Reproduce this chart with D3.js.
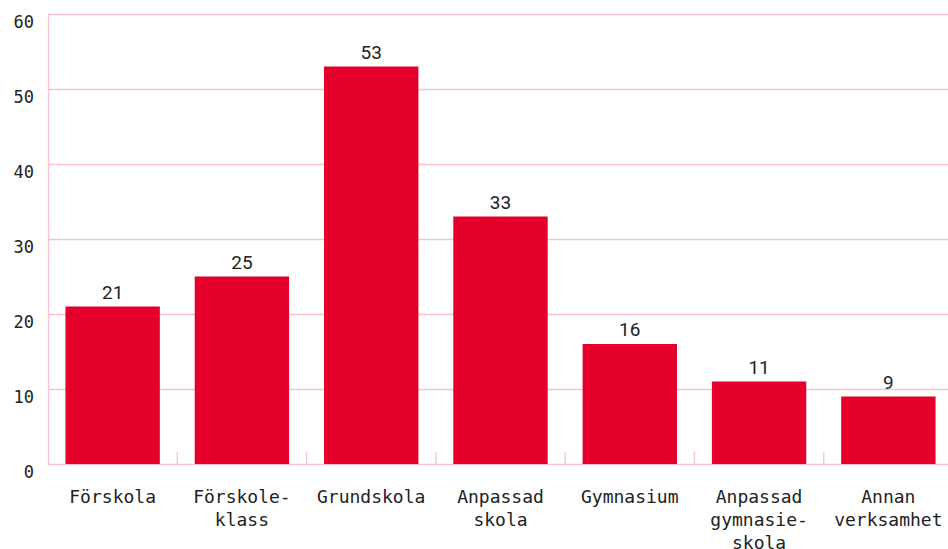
<!DOCTYPE html>
<html>
<head>
<meta charset="utf-8">
<script src="https://cdn.jsdelivr.net/npm/d3@7"></script>
<style>
  html, body { margin: 0; padding: 0; background: #fff; overflow: hidden; }
  svg { display: block; }
</style>
</head>
<body>
<div id="chart"></div>
<script>
// bar chart — verksamhetsform counts

const categories = [
  ['Förskola'],
  ['Förskole-', 'klass'],
  ['Grundskola'],
  ['Anpassad', 'skola'],
  ['Gymnasium'],
  ['Anpassad', 'gymnasie-', 'skola'],
  ['Annan', 'verksamhet']
];
const values = [21, 25, 53, 33, 16, 11, 9];
const yTicks = [0, 10, 20, 30, 40, 50, 60];

const width = 948, height = 549;
const mono = '"DejaVu Sans Mono", monospace';
const grid = '#f8c3cd';
const red = '#e4002b';

const svg = d3.select('#chart').append('svg')
  .attr('width', width).attr('height', height);

const keys = categories.map((c, i) => i);
const x = d3.scaleBand().domain(keys).range([48, 953]).paddingInner(0.27).paddingOuter(0.135);
const y = d3.scaleLinear().domain([0, 60]).range([464, 14]);

// gridlines
svg.append('g').selectAll('line').data(yTicks).join('line')
  .attr('x1', 48).attr('x2', width)
  .attr('y1', d => y(d) + 0.5).attr('y2', d => y(d) + 0.5)
  .attr('stroke', grid).attr('stroke-width', 1.3);

// left axis line
svg.append('line')
  .attr('x1', 48.5).attr('x2', 48.5).attr('y1', y(60)).attr('y2', y(0))
  .attr('stroke', grid).attr('stroke-width', 1.3);

// category separators (small ticks on baseline)
const step = x.step();
svg.append('g').selectAll('line').data(keys.slice(1)).join('line')
  .attr('x1', d => x(d) - step * x.paddingInner() / 2)
  .attr('x2', d => x(d) - step * x.paddingInner() / 2)
  .attr('y1', y(0) - 12).attr('y2', y(0))
  .attr('stroke', grid).attr('stroke-width', 1.3);

// y tick labels
svg.append('g').selectAll('text').data(yTicks).join('text')
  .attr('x', 34).attr('y', d => y(d) + 14)
  .attr('text-anchor', 'end')
  .style('font-family', mono).style('font-size', '17px').style('fill', '#222')
  .text(d => d);

// bars
svg.append('g').selectAll('rect').data(values).join('rect')
  .attr('x', (d, i) => x(i)).attr('width', x.bandwidth())
  .attr('y', d => y(d)).attr('height', d => y(0) - y(d))
  .attr('fill', red);

// value labels
svg.append('g').selectAll('text').data(values).join('text')
  .attr('x', (d, i) => x(i) + x.bandwidth() / 2)
  .attr('y', d => y(d) - 8)
  .attr('text-anchor', 'middle')
  .style('font-family', 'Roboto, sans-serif').style('font-size', '19px').style('fill', '#222')
  .text(d => d);

// category labels
const cat = svg.append('g').selectAll('text').data(categories).join('text')
  .attr('text-anchor', 'middle')
  .style('font-family', mono).style('font-size', '18px').style('fill', '#222');
cat.each(function(lines, i) {
  const t = d3.select(this);
  lines.forEach((l, j) => {
    t.append('tspan')
      .attr('x', x(i) + x.bandwidth() / 2)
      .attr('y', 503 + j * 23)
      .text(l);
  });
});
</script>
</body>
</html>
